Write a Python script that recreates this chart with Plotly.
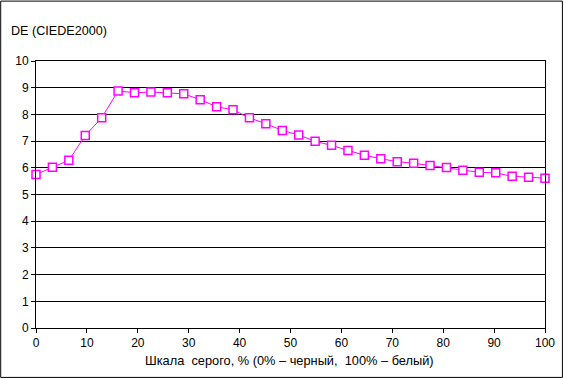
import plotly.graph_objects as go

gray_pct = [i * 100 / 31 for i in range(32)]
de_values = [5.75, 6.02, 6.28, 7.21, 7.87, 8.88, 8.81, 8.84, 8.81, 8.77,
             8.55, 8.29, 8.17, 7.87, 7.65, 7.40, 7.23, 6.99, 6.84, 6.65,
             6.47, 6.34, 6.23, 6.17, 6.09, 6.01, 5.91, 5.83, 5.81, 5.68,
             5.65, 5.61]
x_ticks = list(range(0, 101, 10))
y_ticks = list(range(0, 11))
y_title = "DE (CIEDE2000)"
x_title = "Шкала  серого, % (0% – черный,  100% – белый)"

W, H = 567, 379
L, R, T, B = 36, 548, 60.5, 328
pw, ph = R - L, B - T

fig = go.Figure()
fig.add_trace(go.Scatter(
    x=gray_pct, y=de_values, mode="lines+markers",
    line=dict(color="#FF00FF", width=1),
    marker=dict(symbol="square", size=8, color="white",
                line=dict(color="#FF00FF", width=1.5)),
    showlegend=False, cliponaxis=False,
))

fam = "Liberation Sans, Arial, sans-serif"
font = dict(family=fam, size=12, color="black")
fig.update_layout(
    width=W, height=H,
    margin=dict(l=L, r=W - R, t=T, b=H - B, pad=0),
    paper_bgcolor="white", plot_bgcolor="white",
    font=font,
    xaxis=dict(range=[0, 100], tickvals=x_ticks, showgrid=False,
               showline=True, linecolor="black", linewidth=1, mirror=True,
               ticks="outside", ticklen=4, tickcolor="black", zeroline=False,
               fixedrange=True),
    yaxis=dict(range=[0, 10], tickvals=y_ticks, showgrid=True,
               gridcolor="black", gridwidth=1,
               showline=True, linecolor="black", linewidth=1, mirror=True,
               ticks="outside", ticklen=4, tickcolor="black", zeroline=False,
               fixedrange=True),
)

fig.add_annotation(text=y_title, xref="paper", yref="paper",
                   x=(9 - L) / pw, y=(B - 30) / ph, xanchor="left", yanchor="middle",
                   showarrow=False, font=dict(family=fam, size=12.6, color="black"))
fig.add_annotation(text=x_title, xref="paper", yref="paper",
                   x=(291 - L) / pw, y=(B - 361) / ph, xanchor="center", yanchor="middle",
                   showarrow=False, font=dict(family=fam, size=12.8, color="black"))

fig.add_shape(type="rect", xref="paper", yref="paper",
              x0=(0.5 - L) / pw, x1=(565.5 - L) / pw,
              y0=(B - 377.5) / ph, y1=(B - 0.5) / ph,
              line=dict(color="black", width=1), fillcolor="rgba(0,0,0,0)",
              layer="below")

fig.write_html("out.html", config={"displayModeBar": False},
               post_script="document.body.style.margin='0';document.body.style.padding='0';document.body.style.overflow='hidden';")
